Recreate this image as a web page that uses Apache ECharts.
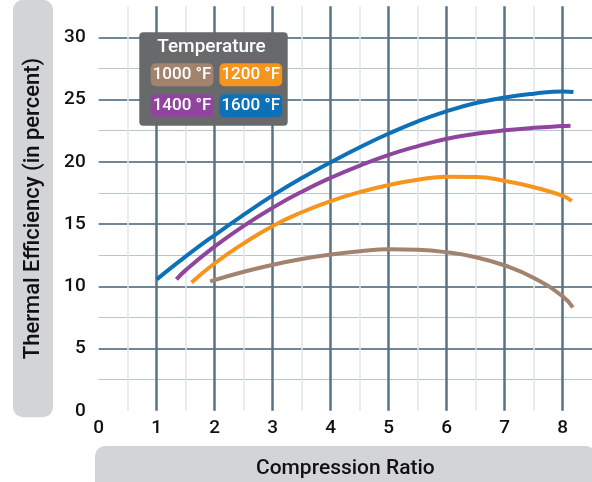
<!DOCTYPE html>
<html><head><meta charset="utf-8">
<script src="https://cdn.jsdelivr.net/npm/echarts@6/dist/echarts.min.js"></script>
<style>html,body{margin:0;padding:0;background:#fff}#c{width:592px;height:482px}</style>
</head><body><div id="c"></div>
<script>
const seriesNames = ['1000 °F', '1200 °F', '1400 °F', '1600 °F'];
const xTickLabels = ['0', '1', '2', '3', '4', '5', '6', '7', '8'];
const yTickLabels = ['0', '5', '10', '15', '20', '25', '30'];

const ratio1000 = [1.92, 2.5, 3, 3.5, 4, 4.5, 5, 5.5, 6, 6.5, 7, 7.5, 8, 8.17];
const eff1000   = [10.4, 11.17, 11.73, 12.19, 12.55, 12.81, 12.97, 12.93, 12.73, 12.33, 11.67, 10.67, 9.17, 8.3];
const ratio1200 = [1.6, 2, 2.5, 3, 3.5, 4, 4.5, 5, 5.5, 6, 6.5, 7, 7.5, 8, 8.15];
const eff1200   = [10.3, 11.85, 13.45, 14.85, 15.95, 16.85, 17.57, 18.14, 18.56, 18.8, 18.78, 18.46, 17.96, 17.26, 16.85];
const ratio1400 = [1.34, 1.5, 2, 2.5, 3, 3.5, 4, 4.5, 5, 5.5, 6, 6.5, 7, 7.5, 8, 8.13];
const eff1400   = [10.56, 11.3, 13.2, 14.86, 16.32, 17.6, 18.72, 19.7, 20.56, 21.26, 21.85, 22.25, 22.53, 22.73, 22.87, 22.9];
const ratio1600 = [1.0, 1.5, 2, 2.5, 3, 3.5, 4, 4.5, 5, 5.5, 6, 6.5, 7, 7.5, 8, 8.18];
const eff1600   = [10.56, 12.4, 14.12, 15.75, 17.3, 18.7, 19.97, 21.17, 22.27, 23.25, 24.07, 24.72, 25.17, 25.47, 25.65, 25.6];

const colors = ['#a1836e', '#f7941d', '#8f459e', '#0e71b8'];
const F = 'Roboto, "Liberation Sans", sans-serif';

const ratios = [ratio1000, ratio1200, ratio1400, ratio1600];
const effs = [eff1000, eff1200, eff1400, eff1600];

const chart = echarts.init(document.getElementById('c'), null, {renderer: 'canvas'});

function chip(i) {
  return {
    name: seriesNames[i],
    textStyle: {
      color: '#ffffff', backgroundColor: colors[i], borderRadius: 5,
      padding: [3, 2, 2, 2], fontSize: 17, lineHeight: 18, fontFamily: F, fontWeight: 500
    }
  };
}
const legendCommon = {
  orient: 'horizontal', itemGap: 1, itemWidth: 0, itemHeight: 0, padding: 0,
  left: 145.7, icon: 'rect', itemStyle: {opacity: 0}, lineStyle: {opacity: 0},
  textStyle: {fontFamily: F}
};

const option = {
  animation: false,
  backgroundColor: '#ffffff',
  color: colors,
  grid: [
    {left: 98.7, right: 0, top: 37.3, bottom: 71.2, outerBoundsMode: 'none', containLabel: false},
    {left: 98.7, width: 464, top: 6.2, bottom: 71.2, outerBoundsMode: 'none', containLabel: false}
  ],
  legend: [
    Object.assign({}, legendCommon, {top: 63.3, data: [chip(0), chip(1)]}),
    Object.assign({}, legendCommon, {top: 94.3, data: [chip(2), chip(3)]})
  ],
  graphic: [
    {type: 'rect', z: 3, shape: {x: 139.3, y: 32.3, width: 148.4, height: 93.4, r: 4},
     style: {fill: '#68696b'}},
    {type: 'text', z: 5, x: 211.5, y: 47, style: {text: 'Temperature', fill: '#ffffff',
     font: '500 19px ' + F, textAlign: 'center', textVerticalAlign: 'middle'}}
  ],
  xAxis: [
    {type: 'value', gridIndex: 0, min: 0, max: 8.5,
     axisLine: {show: false}, axisTick: {show: false}, axisLabel: {show: false}, splitLine: {show: false},
     name: 'Compression Ratio', nameLocation: 'middle', nameGap: 35.2, nameMoveOverlap: false,
     nameTextStyle: {fontSize: 21, lineHeight: 21, color: '#111', fontFamily: F, fontWeight: 500,
       backgroundColor: '#d3d4d6', borderRadius: 10, padding: [12.5, 161, 12.5, 161]}},
    {type: 'value', gridIndex: 1, min: 0, max: 8, interval: 1,
     axisLine: {show: false}, axisTick: {show: false},
     axisLabel: {margin: 8, fontSize: 19, color: '#111', fontFamily: F, fontWeight: 500,
       formatter: function (v) { return xTickLabels[Math.round(v)]; }},
     splitLine: {show: true, showMinLine: false, lineStyle: {color: '#587383', width: 2.5}},
     minorTick: {show: false, splitNumber: 2},
     minorSplitLine: {show: true, lineStyle: {color: '#dfe6ea', width: 1.5}}}
  ],
  yAxis: [
    {type: 'value', gridIndex: 0, min: 0, max: 30, interval: 5,
     axisLine: {show: false}, axisTick: {show: false},
     axisLabel: {margin: 13, fontSize: 19, color: '#111', fontFamily: F, fontWeight: 500,
       formatter: function (v) { return yTickLabels[Math.round(v / 5)]; }},
     splitLine: {show: true, showMinLine: false, lineStyle: {color: '#6f8796', width: 2}},
     minorTick: {show: false, splitNumber: 2},
     minorSplitLine: {show: true, lineStyle: {color: '#b7c5ce', width: 1}}},
    {type: 'value', gridIndex: 1, min: 0, max: 1,
     axisLine: {show: false}, axisTick: {show: false}, axisLabel: {show: false}, splitLine: {show: false},
     name: 'Thermal Efficiency (in percent)', nameLocation: 'middle', nameGap: 45.7, nameRotate: 90,
     nameMoveOverlap: false,
     nameTextStyle: {fontSize: 22, lineHeight: 22, color: '#111', fontFamily: F, fontWeight: 500,
       backgroundColor: '#d3d4d6', borderRadius: 10, padding: [9, 58, 9, 58]}}
  ],
  series: seriesNames.map(function (n, i) {
    return {
      name: n, type: 'line', xAxisIndex: 0, yAxisIndex: 0, smooth: 0.5,
      symbol: 'none',
      lineStyle: {width: 4, color: colors[i]}, itemStyle: {color: colors[i]},
      data: ratios[i].map(function (x, k) { return [x, effs[i][k]]; })
    };
  })
};
chart.setOption(option);
</script>
</body></html>
